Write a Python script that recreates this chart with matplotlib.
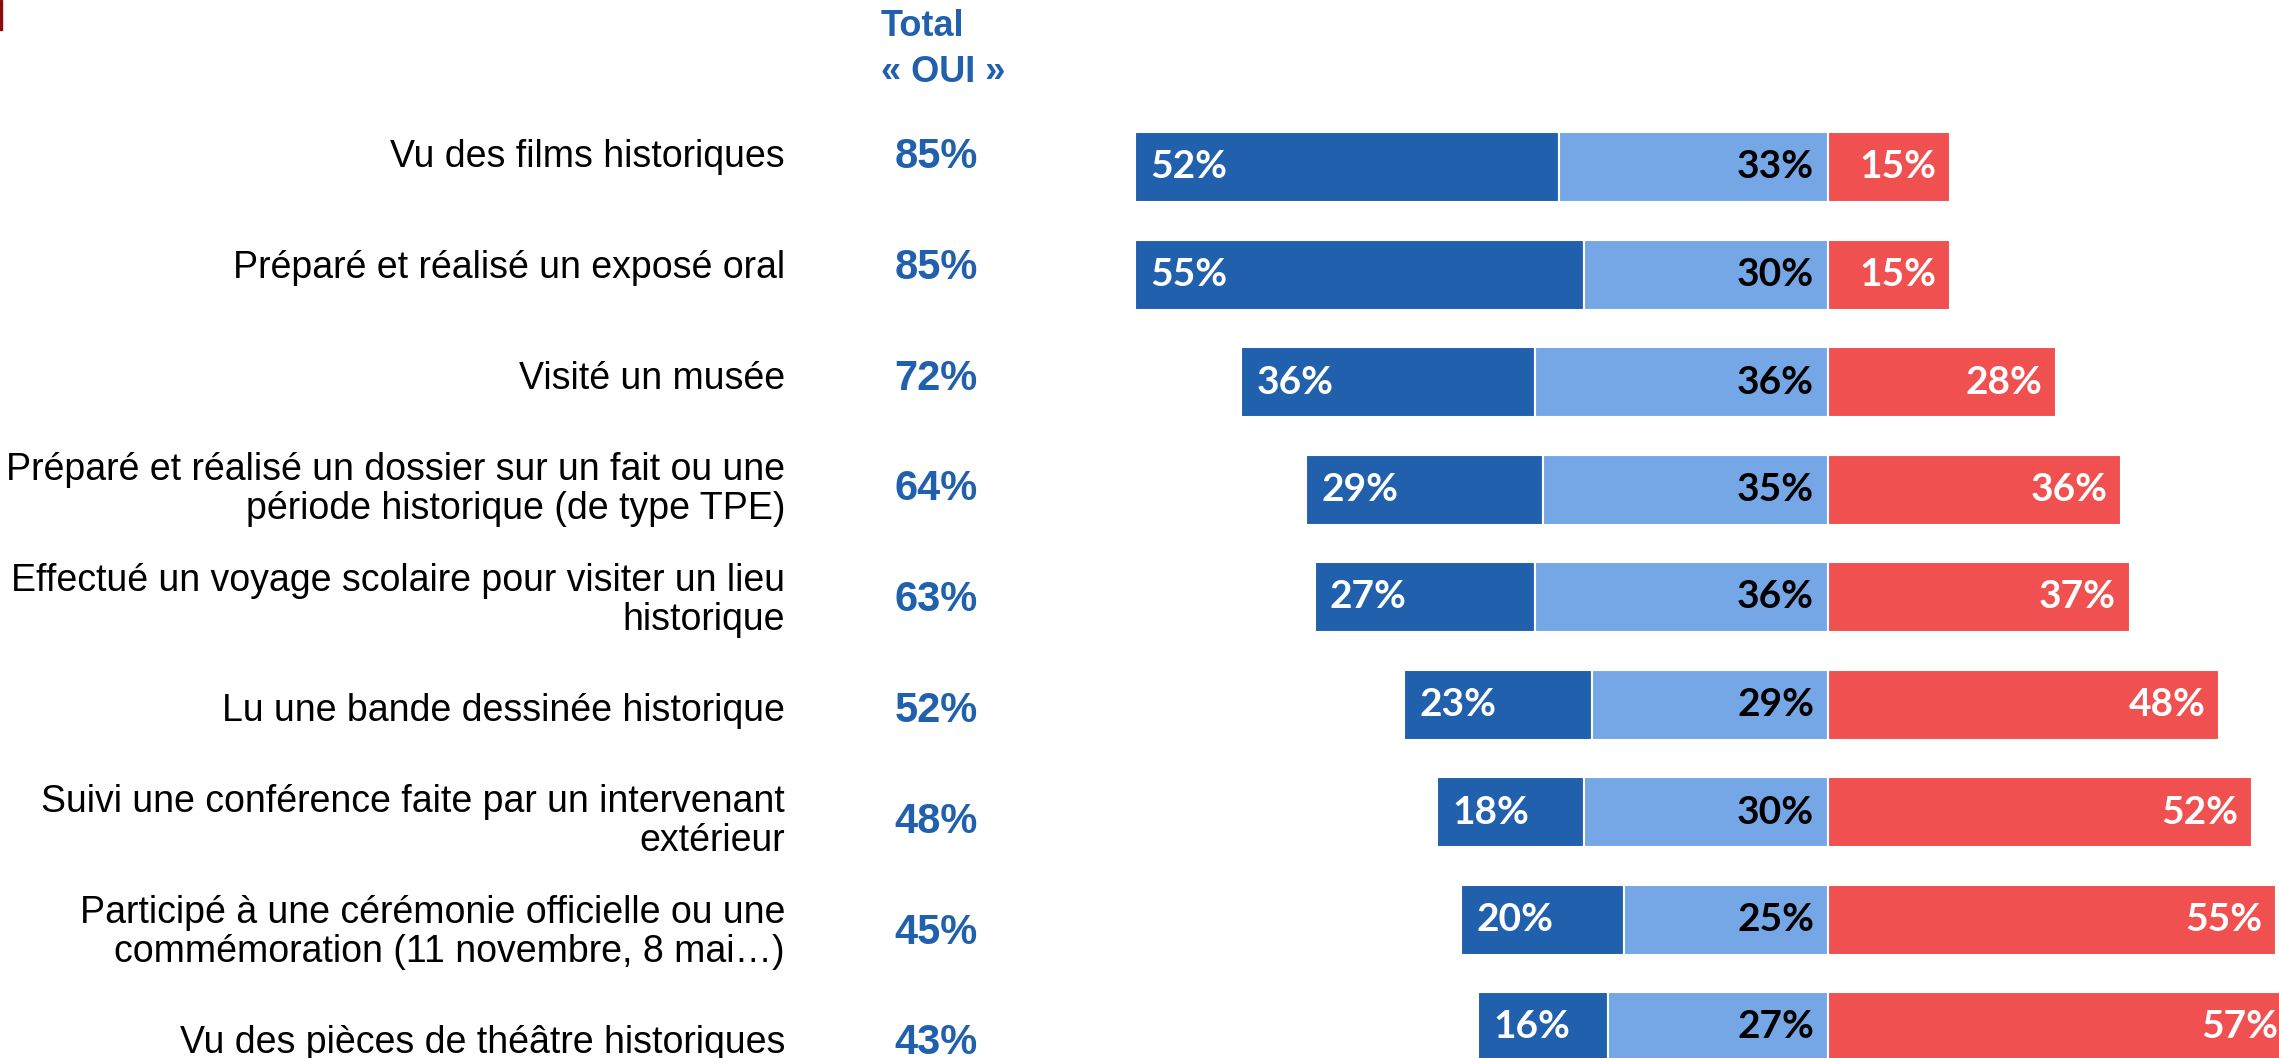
import matplotlib.pyplot as plt
from matplotlib.patches import Rectangle

## Donnees
labels = [
    "Vu des films historiques",
    "Préparé et réalisé un exposé oral",
    "Visité un musée",
    "Préparé et réalisé un dossier sur un fait ou une\npériode historique (de type TPE)",
    "Effectué un voyage scolaire pour visiter un lieu\nhistorique",
    "Lu une bande dessinée historique",
    "Suivi une conférence faite par un intervenant\nextérieur",
    "Participé à une cérémonie officielle ou une\ncommémoration (11 novembre, 8 mai…)",
    "Vu des pièces de théâtre historiques",
]
total_oui = [85, 85, 72, 64, 63, 52, 48, 45, 43]
oui_souvent = [52, 55, 36, 29, 27, 23, 18, 20, 16]
oui_parfois = [33, 30, 36, 35, 36, 29, 30, 25, 27]
non = [15, 15, 28, 36, 37, 48, 52, 55, 57]

## Couleurs
DARK = "#2160AD"
LIGHT = "#75A7E6"
RED = "#F05050"
TXT_BLUE = "#2160AD"

W, H = 2279, 1058
fig = plt.figure(figsize=(W / 100, H / 100), dpi=100)
ax = fig.add_axes([0, 0, 1, 1])

# echelle : 8.15 px par point de %, zero a x=1828 px
pxp = 8.15
x0 = 1828
ax.set_xlim(-x0 / pxp, (W - x0) / pxp)
y_first, y_step = 167, 107.5
ax.set_ylim((H - y_first) / y_step, -y_first / y_step)
ax.axis("off")

h = 70 / y_step
pad = 14 / pxp
bar_font = dict(family="Lato", weight="bold", fontsize=28)

for i in range(len(labels)):
    s, p, n = oui_souvent[i], oui_parfois[i], non[i]
    ax.barh(i, s, left=-(s + p), height=h, color=DARK, edgecolor="white", linewidth=1.5)
    ax.barh(i, p, left=-p, height=h, color=LIGHT, edgecolor="white", linewidth=1.5)
    ax.barh(i, n, left=0, height=h, color=RED, edgecolor="white", linewidth=1.5)
    ax.text(-(s + p) + pad * 1.1, i, f"{s}%", color="white", ha="left", va="center", **bar_font)
    ax.text(-pad, i, f"{p}%", color="black", ha="right", va="center", **bar_font)
    ax.text(n - pad, i, f"{n}%", color="white", ha="right", va="center", **bar_font)

# libelles et total OUI (grille de texte un peu plus espacee que les barres)
for i, lab in enumerate(labels):
    yt = 1 - (157 + 110.8 * i) / H
    fig.text(785 / W, yt, lab, ha="right", va="center",
             family="Liberation Sans", fontsize=27, color="black", linespacing=1.1)
    fig.text(936 / W, yt, f"{total_oui[i]}%", ha="center", va="center",
             family="Liberation Sans", weight="bold", fontsize=30, color=TXT_BLUE)

fig.text(881 / W, 1 - 26 / H, "Total", ha="left", va="center",
         family="Liberation Sans", weight="bold", fontsize=26, color=TXT_BLUE)
fig.text(881 / W, 1 - 73 / H, "« OUI »", ha="left", va="center",
         family="Liberation Sans", weight="bold", fontsize=26, color=TXT_BLUE)

# petit trait rouge en haut a gauche
fig.patches.append(Rectangle((0, 1 - 30 / H), 2 / W, 30 / H, transform=fig.transFigure,
                             color="#8B0A0A", zorder=5))

fig.savefig("out.png", dpi=100)
